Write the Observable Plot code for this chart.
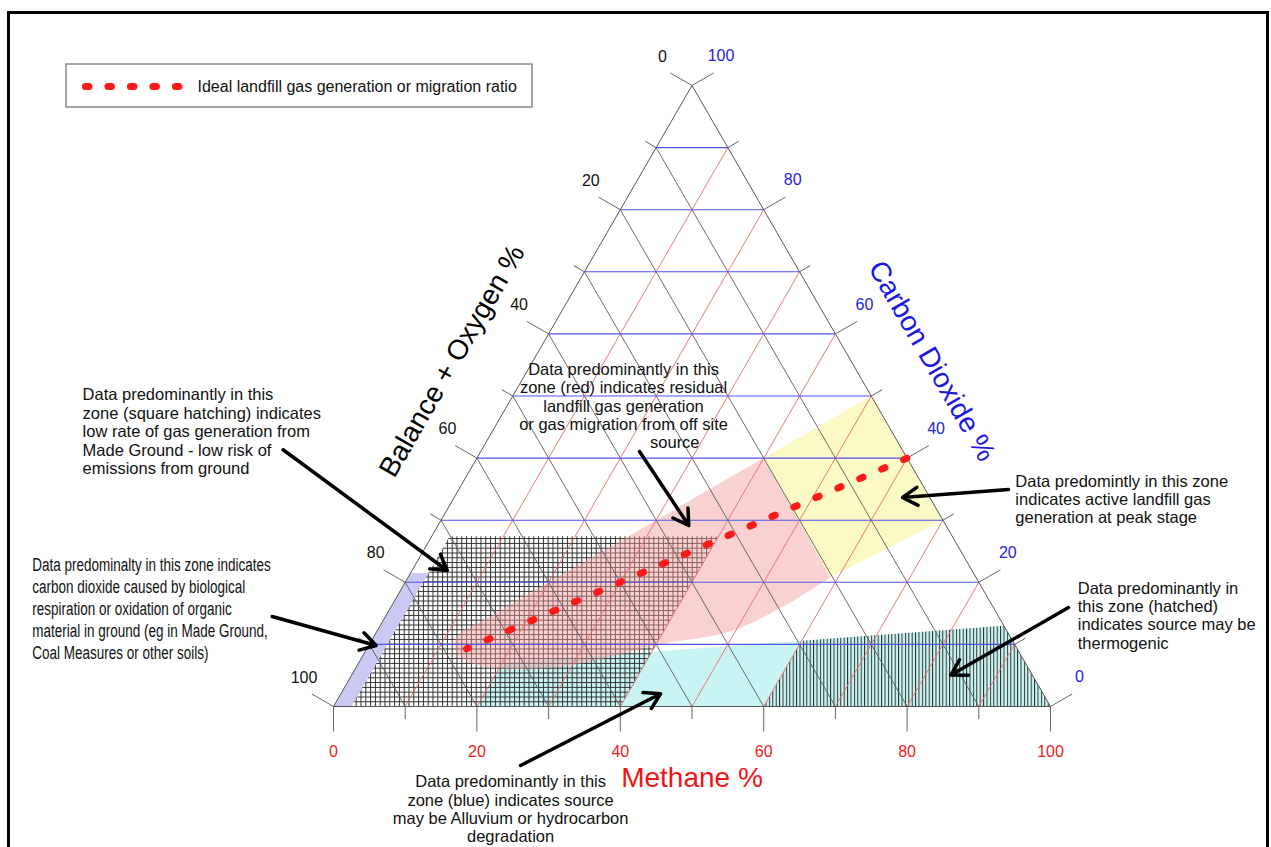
<!DOCTYPE html>
<html>
<head>
<meta charset="utf-8">
<script src="https://cdn.jsdelivr.net/npm/d3@7"></script>
<script src="https://cdn.jsdelivr.net/npm/@observablehq/plot@0.6"></script>
<style>
  html, body { margin: 0; padding: 0; background: #fff; overflow: hidden; }
  #wrap { position: relative; width: 1271px; height: 847px; overflow: hidden; }
  #wrap svg { position: absolute; left: 0; top: 0; }
  #border { position: absolute; left: 7px; top: 11px; width: 1256px; height: 900px;
            border: 3px solid #000; pointer-events: none; z-index: 2; }
</style>
</head>
<body>
<div id="wrap"><div id="border"></div></div>
<script>
const FONT = "'Liberation Sans', Arial, Helvetica, sans-serif";

// Ternary axis ticks (percent)
const ticks = [0, 10, 20, 30, 40, 50, 60, 70, 80, 90, 100];
const majorTicks = [0, 20, 40, 60, 80, 100];
const gridLevels = [10, 20, 30, 40, 50, 60, 70, 80, 90];

// Interpretation zones, vertices as [methane %, carbon dioxide %]
const lavenderZone = [[0, 0], [2.5, 0], [2.5, 21.5], [0, 21.5]];
const squareHatchZone = [[2.5, 0], [40, 0], [40, 27.4], [2.5, 27.4]];
const blueZone = [[20, 0], [100, 0], [87, 13], [60, 10.6], [20, 7]];
const hatchedZone = [[60, 0], [100, 0], [87, 13], [60, 10.6]];
const redZone = [[40, 40], [30, 30], [20, 20], [13, 13], [11.9, 12.1], [11.6, 10.6],
                 [12.8, 8.7], [14.9, 7.3], [18.8, 6.3], [28.4, 6.4], [40.6, 10],
                 [49.3, 12.1], [54.9, 16.3], [58.9, 20.8]];
const yellowZone = [[40, 40], [50, 50], [70, 30], [58.9, 20.8]];

// Ideal landfill gas ratio (CH4 : CO2 = 60 : 40)
const idealMethane = [13.9, 60];
const idealCO2 = [9.3, 40];

// Scale geometry: x = methane + CO2 / 2, y = CO2
const X_RANGE = [333, 1050];
const Y_RANGE = [706, 85];
const kx = (X_RANGE[1] - X_RANGE[0]) / 100;
const ky = (Y_RANGE[0] - Y_RANGE[1]) / 100;

const toXY = ([m, c]) => ({x: m + c / 2, y: c});
const poly = (zone) => zone.map(toXY);

// Grid lines
const blueLines = gridLevels.map(c => ({x1: c / 2, y1: c, x2: 100 - c / 2, y2: c}));
const redLines = gridLevels.map(m => ({x1: m, y1: 0, x2: m + (100 - m) / 2, y2: 100 - m}));
const blackLines = gridLevels.map(b => ({x1: (100 - b) / 2, y1: 100 - b, x2: 100 - b, y2: 0}));
const triangle = poly([[0, 0], [100, 0], [0, 100], [0, 0]]);

// Tick marks (pixel lengths converted to scale units)
const tickLen = v => (v % 20 === 0 ? 25 : 12.5);
const methaneTicks = ticks.map(m => ({x1: m, y1: 0, x2: m, y2: -tickLen(m) / ky}));
const balanceTicks = ticks.map(b => {
  const c = 100 - b, L = tickLen(b);
  return {x1: c / 2, y1: c, x2: c / 2 - 0.866 * L / kx, y2: c + 0.5 * L / ky};
});
const co2Ticks = ticks.map(c => {
  const L = tickLen(c);
  return {x1: 100 - c / 2, y1: c, x2: 100 - c / 2 + 0.866 * L / kx, y2: c + 0.5 * L / ky};
});

const methaneLabels = majorTicks.map(m => ({x: m, y: 0, t: String(m)}));
const balanceLabels = majorTicks.map(b => ({x: (100 - b) / 2, y: 100 - b, t: String(b)}));
const co2Labels = majorTicks.map(c => ({x: 100 - c / 2, y: c, t: String(c)}));

const idealLine = idealMethane.map((m, i) => toXY([m, idealCO2[i]]));

// Annotations (positions in chart units)
const notesStart = [
  {x: -35.0, y: 44.3, text: "Data predominantly in this\nzone (square hatching) indicates\nlow rate of gas generation from\nMade Ground - low risk of\nemissions from ground"},
  {x: 95.1, y: 33.4, text: "Data predomintly in this zone\nindicates active landfill gas\ngeneration at peak stage"},
  {x: 103.8, y: 14.7, text: "Data predominantly in\nthis zone (hatched)\nindicates source may be\nthermogenic"}
];
const notesMiddle = [
  {x: 40.45, y: 49.9, text: "Data predominantly in this\nzone (red) indicates residual\nlandfill gas generation\nor gas migration from off site"},
  {x: 47.6, y: 42.5, text: "source"},
  {x: 24.7, y: -16.5, text: "Data predominantly in this\nzone (blue) indicates source\nmay be Alluvium or hydrocarbon\ndegradation"}
];
const notesNarrow = [
  {x: -42.0, y: 15.9, text: "Data predominalty in this zone indicates\ncarbon dioxide caused by biological\nrespiration or oxidation of organic\nmaterial in ground (eg in Made Ground,\nCoal Measures or other soils)"}
];
const arrows = [
  {x1: -7.03, y1: 41.34, x2: 15.86, y2: 21.9},
  {x1: -8.55, y1: 14.49, x2: 5.93, y2: 9.82},
  {x1: 42.68, y1: 41.06, x2: 49.55, y2: 29.15},
  {x1: 94.14, y1: 34.94, x2: 79.36, y2: 33.66},
  {x1: 102.51, y1: 15.94, x2: 86.12, y2: 5.07},
  {x1: 26.08, y1: -9.5, x2: 45.61, y2: 2.05}
];

// Legend
const legendBox = [{x1: -37.24, x2: 27.75, y1: 96.46, y2: 103.38}];
const legendLine = [{x: -34.6, y: 99.84}, {x: -21.5, y: 99.84}];
const legendText = [{x: -18.97, y: 99.84, t: "Ideal landfill gas generation or migration ratio"}];

const chart = Plot.plot({
  width: 1271,
  height: 847,
  margin: 0,
  x: {domain: [0, 100], range: X_RANGE, axis: null},
  y: {domain: [0, 100], range: Y_RANGE, axis: null},
  style: {fontFamily: FONT, background: "transparent", overflow: "visible"},
  marks: [
    // zones
    Plot.line(poly(blueZone), {x: "x", y: "y", fill: "#c9f4f4", stroke: null}),
    Plot.line(poly(lavenderZone), {x: "x", y: "y", fill: "#c9c9f4", stroke: null}),
    Plot.line(poly(squareHatchZone), {x: "x", y: "y", fill: "black", stroke: null, className: "sqhatch"}),
    Plot.line(poly(hatchedZone), {x: "x", y: "y", fill: "black", stroke: null, className: "vhatch"}),
    Plot.line(poly(redZone), {x: "x", y: "y", fill: "#f29a9a", fillOpacity: 0.45, stroke: null, curve: "catmull-rom"}),
    Plot.line(poly(yellowZone), {x: "x", y: "y", fill: "#fbf9c4", stroke: null}),

    // grid
    Plot.link(blackLines, {x1: "x1", y1: "y1", x2: "x2", y2: "y2", stroke: "#5a5a5a", strokeWidth: 0.9}),
    Plot.link(redLines, {x1: "x1", y1: "y1", x2: "x2", y2: "y2", stroke: "#ee6a6a", strokeWidth: 0.9}),
    Plot.link(blueLines, {x1: "x1", y1: "y1", x2: "x2", y2: "y2", stroke: "#5252ec", strokeWidth: 1.1}),
    Plot.line(triangle, {x: "x", y: "y", stroke: "#555", strokeWidth: 1}),

    // ticks
    Plot.link(methaneTicks, {x1: "x1", y1: "y1", x2: "x2", y2: "y2", stroke: "#666", strokeWidth: 1}),
    Plot.link(balanceTicks, {x1: "x1", y1: "y1", x2: "x2", y2: "y2", stroke: "#666", strokeWidth: 1}),
    Plot.link(co2Ticks, {x1: "x1", y1: "y1", x2: "x2", y2: "y2", stroke: "#666", strokeWidth: 1}),

    // tick labels
    Plot.text(methaneLabels, {x: "x", y: "y", text: "t", dy: 45, fontSize: 16, fill: "#f01c1c"}),
    Plot.text(balanceLabels, {x: "x", y: "y", text: "t", dx: -29.5, dy: -29, fontSize: 16, fill: "#111"}),
    Plot.text(co2Labels, {x: "x", y: "y", text: "t", dx: 29, dy: -29.5, fontSize: 16, fill: "#2222dd"}),

    // axis titles
    Plot.text([{x: 50, y: 0}], {x: "x", y: "y", text: () => "Methane %", dy: 72, fontSize: 28, fill: "#f01414"}),
    Plot.text([{x: 25, y: 50}], {x: "x", y: "y", text: () => "Balance + Oxygen %", dx: -60.6, dy: -35, rotate: -60, fontSize: 28, fill: "#000"}),
    Plot.text([{x: 75, y: 50}], {x: "x", y: "y", text: () => "Carbon Dioxide %", dx: 60.6, dy: -35, rotate: 60, fontSize: 28, fill: "#1818e0"}),

    // ideal ratio line
    Plot.line(idealLine, {x: "x", y: "y", stroke: "#ff1a1a", strokeWidth: 7, strokeLinecap: "round",
                          strokeDasharray: "3.5,20.4", strokeDashoffset: 1.75}),

    // annotation arrows and text
    Plot.arrow(arrows, {x1: "x1", y1: "y1", x2: "x2", y2: "y2", stroke: "#000", strokeWidth: 3.5, headLength: 7.5, headAngle: 62}),
    Plot.text(notesStart, {x: "x", y: "y", text: "text", textAnchor: "start", lineAnchor: "middle", lineHeight: 1.115, fontSize: 16.5, fill: "#111"}),
    Plot.text(notesMiddle, {x: "x", y: "y", text: "text", textAnchor: "middle", lineAnchor: "middle", lineHeight: 1.115, fontSize: 16.5, fill: "#111"}),
    Plot.text(notesNarrow, {x: "x", y: "y", text: "text", textAnchor: "start", lineAnchor: "middle", lineHeight: 1.153, fontSize: 19, fill: "#111", className: "narrow"}),

    // legend
    Plot.rect(legendBox, {x1: "x1", x2: "x2", y1: "y1", y2: "y2", fill: "white", stroke: "#888", strokeWidth: 1.5}),
    Plot.line(legendLine, {x: "x", y: "y", stroke: "#ff1a1a", strokeWidth: 7, strokeLinecap: "round", strokeDasharray: "3.5,19"}),
    Plot.text(legendText, {x: "x", y: "y", text: "t", textAnchor: "start", fontSize: 16, fill: "#111"})
  ]
});

// Hatch patterns for the two hatched zones
const svg = d3.select(chart);
const defs = svg.insert("defs", ":first-child");
const sq = defs.append("pattern").attr("id", "sqhatch").attr("patternUnits", "userSpaceOnUse")
  .attr("width", 4.8).attr("height", 4.8);
sq.append("path").attr("d", "M0,0.5H4.8M0.5,0V4.8").attr("stroke", "#2e2e2e").attr("stroke-width", 1).attr("fill", "none");
const vh = defs.append("pattern").attr("id", "vhatch").attr("patternUnits", "userSpaceOnUse")
  .attr("width", 3.4).attr("height", 10);
vh.append("path").attr("d", "M0.5,0V10").attr("stroke", "#2e2e2e").attr("stroke-width", 1).attr("fill", "none");
svg.selectAll("g.sqhatch, g.sqhatch path").attr("fill", "url(#sqhatch)");
svg.selectAll("g.vhatch, g.vhatch path").attr("fill", "url(#vhatch)");

// Condensed lettering for the left-hand note
chart.querySelectorAll("g.narrow text").forEach(t => {
  const tr = t.getAttribute("transform");
  if (tr) t.setAttribute("transform", tr + " scale(0.71,1)");
  else {
    const x = +t.getAttribute("x") || 0, y = +t.getAttribute("y") || 0;
    t.setAttribute("transform", `translate(${x},${y}) scale(0.71,1)`);
    t.removeAttribute("x"); t.removeAttribute("y");
  }
});

document.getElementById("wrap").prepend(chart);
</script>
</body>
</html>
